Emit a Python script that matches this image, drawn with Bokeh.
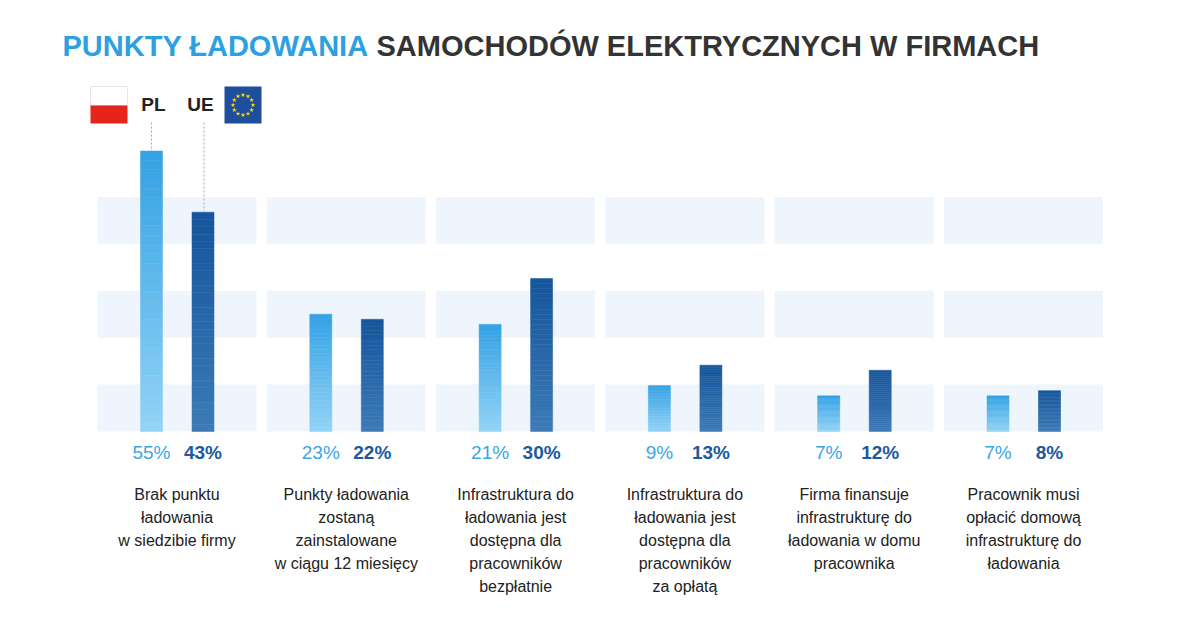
import numpy as np
from bokeh.plotting import figure
from bokeh.models import Range1d
from bokeh.core.properties import value
from bokeh.embed import file_html
from bokeh.resources import INLINE

categories = [
    ["Brak punktu", "ładowania", "w siedzibie firmy"],
    ["Punkty ładowania", "zostaną", "zainstalowane", "w ciągu 12 miesięcy"],
    ["Infrastruktura do", "ładowania jest", "dostępna dla", "pracowników", "bezpłatnie"],
    ["Infrastruktura do", "ładowania jest", "dostępna dla", "pracowników", "za opłatą"],
    ["Firma finansuje", "infrastrukturę do", "ładowania w domu", "pracownika"],
    ["Pracownik musi", "opłacić domową", "infrastrukturę do", "ładowania"],
]
pl_values = [55, 23, 21, 9, 7, 7]
ue_values = [43, 22, 30, 13, 12, 8]

BASE = 431.0
SCALE = 5.1
def yv(Y):
    return (BASE - Y) / SCALE

p = figure(width=1184, height=623, output_backend="svg", toolbar_location=None,
           x_range=Range1d(0, 1184), y_range=Range1d(yv(623), yv(0)),
           min_border=0)
p.axis.visible = False
p.grid.visible = False
p.outline_line_color = None
p.background_fill_color = "white"

FONT = value("Liberation Sans")
centers = [176.5 + i * 169.3 for i in range(6)]
GW = 159
BW = 22

for c in centers:
    for lo, hi in [(0, 9.2), (18.4, 27.6), (36.8, 46.0)]:
        p.quad(left=c - GW / 2, right=c + GW / 2, bottom=lo, top=hi,
               fill_color="#EEF5FC", line_color=None)

def grad(c1, c2, n):
    a = np.array([int(c1[i:i+2], 16) for i in (1, 3, 5)])
    b = np.array([int(c2[i:i+2], 16) for i in (1, 3, 5)])
    return ["#%02x%02x%02x" % tuple((a + (b - a) * t).astype(int)) for t in np.linspace(0, 1, n)]

N = 30
def gbar(x, v, ctop, cbot):
    cols = grad(cbot, ctop, N)
    edges = np.linspace(0, v, N + 1)
    p.quad(left=[x - BW / 2] * N, right=[x + BW / 2] * N, bottom=edges[:-1], top=edges[1:],
           fill_color=cols, line_color=cols, line_width=0.5)

for i, c in enumerate(centers):
    xpl, xue = c - 25.5, c + 26
    gbar(xpl, pl_values[i], "#36A3E4", "#92D3F6")
    gbar(xue, ue_values[i], "#17569C", "#3C7AB7")
    p.text(x=[xpl], y=[yv(452)], text=[f"{pl_values[i]}%"], text_align="center",
           text_baseline="middle", text_font=FONT, text_font_size="19px", text_color="#3AA6E3")
    p.text(x=[xue], y=[yv(452)], text=[f"{ue_values[i]}%"], text_align="center",
           text_baseline="middle", text_font=FONT, text_font_size="19px", text_color="#1A5A9E",
           text_font_style="bold")
    for j, line in enumerate(categories[i]):
        p.text(x=[c], y=[yv(494 + 23 * j)], text=[line], text_align="center",
               text_baseline="middle", text_font=FONT, text_font_size="16px", text_color="#222222")

p.text(x=[62], y=[yv(45)], text=["PUNKTY ŁADOWANIA"], text_baseline="middle",
       text_font=FONT, text_font_size="29px", text_font_style="bold", text_color="#2E9FE0")
p.text(x=[376], y=[yv(45)], text=["SAMOCHODÓW ELEKTRYCZNYCH W FIRMACH"], text_baseline="middle",
       text_font=FONT, text_font_size="29px", text_font_style="bold", text_color="#333333")

p.quad(left=90, right=127, top=yv(86), bottom=yv(105), fill_color="white", line_color="#e6e6e6")
p.quad(left=90, right=127, top=yv(105), bottom=yv(123), fill_color="#E5251B", line_color=None)
p.quad(left=224, right=261, top=yv(86), bottom=yv(123), fill_color="#1F4E9C", line_color=None)
ang = np.linspace(0, 2 * np.pi, 13)[:-1]
p.scatter(x=242.5 + 10 * np.cos(ang), y=yv(104.5) + (10 / SCALE) * np.sin(ang),
          marker="star", size=5, fill_color="#FFDD00", line_color=None)

p.text(x=[153], y=[yv(104)], text=["PL"], text_align="center", text_baseline="middle",
       text_font=FONT, text_font_size="19px", text_font_style="bold", text_color="#222222")
p.text(x=[200], y=[yv(104)], text=["UE"], text_align="center", text_baseline="middle",
       text_font=FONT, text_font_size="19px", text_font_style="bold", text_color="#222222")
p.segment(x0=[centers[0] - 25.5], y0=[yv(122)], x1=[centers[0] - 25.5], y1=[pl_values[0]],
          line_color="#aaaaaa", line_dash="2 2", line_width=1)
p.segment(x0=[centers[0] + 27], y0=[yv(122)], x1=[centers[0] + 27], y1=[ue_values[0]],
          line_color="#aaaaaa", line_dash="2 2", line_width=1)

open("out.html", "w").write(file_html(p, INLINE))
